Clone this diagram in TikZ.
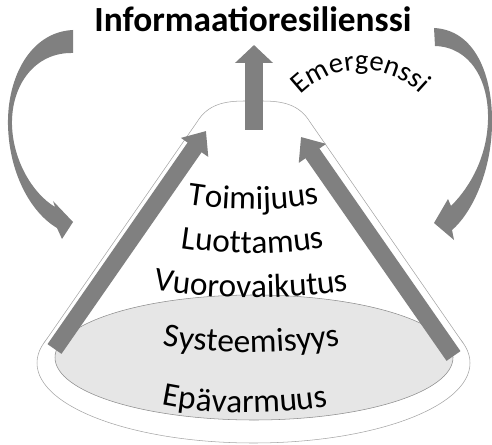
\documentclass[tikz,border=0pt]{standalone}
\usepackage{fontspec}
\setmainfont{Carlito}
\usetikzlibrary{arrows.meta,decorations.text}

\definecolor{arrowgray}{RGB}{128,128,128}
\definecolor{conegray}{RGB}{165,165,165}
\definecolor{basegray}{RGB}{230,230,230}
\newcommand\layerfont{\fontsize{25}{29}\selectfont}
\newcommand\emfont{\fontsize{21.5}{25}\selectfont}
\newcommand\titlefont{\fontsize{26.5}{31}\selectfont\bfseries}

\tikzset{
  conearrow/.style={draw=arrowgray, line width=12.75pt, -{Triangle[length=15pt,width=24pt]}},
  uparrow/.style={draw=arrowgray, line width=13.5pt, -{Triangle[length=13.5pt,width=27.75pt]}},
  layertext/.style={decorate, decoration={text along path, text align=center, text={|\layerfont|#1}}},
}

\begin{document}
\begin{tikzpicture}[x=0.75pt,y=-0.75pt]
    \useasboundingbox (0,0) rectangle (492,445);
    % base ring and cone
    \draw[conegray, fill=white] (253.5,363) ellipse (216.5 and 80);
    \fill[white] (44,343) -- (197,122) .. controls (208,104) and (225,101) .. (245,101)
        -- (262,101) .. controls (282,101) and (299,104) .. (310,122) -- (463,343) -- cycle;
    \draw[conegray] (44,343) -- (197,122) .. controls (208,104) and (225,101) .. (245,101)
        -- (262,101) .. controls (282,101) and (299,104) .. (310,122) -- (463,343);
    \draw[conegray!85!black, fill=basegray] (254,357.5) ellipse (199 and 62.5);

    % arrows along the cone
    \coordinate (lbot) at (54.5,349);
    \coordinate (ltip) at (206,131);
    \coordinate (rbot) at (453.5,356);
    \coordinate (rtip) at (301,137);
    \draw[conearrow] (lbot) -- (ltip);
    \draw[conearrow] (rbot) -- (rtip);
    \coordinate (cbot) at (254,130);
    \coordinate (ctip) at (254,45);
    \draw[uparrow] (cbot) -- (ctip);

    % curved feedback arrows
    \fill[arrowgray] (73,30) .. controls (30,32) and (7,78) .. (8,125)
        .. controls (9,172) and (30,212) .. (57,228) -- (62,239) -- (73,222) -- (53,201)
        -- (55,207) .. controls (32,193) and (13,160) .. (12,125)
        .. controls (11,85) and (35,52) .. (73,53) -- cycle;
    \fill[arrowgray] (434,28) .. controls (475,30) and (493,75) .. (492,125)
        .. controls (491,175) and (470,215) .. (452,230) -- (454,240) -- (434,223) -- (448,199)
        -- (451,206) .. controls (472,185) and (487,155) .. (488,120)
        .. controls (489,80) and (470,47) .. (435,46) -- cycle;

    % texts
    \node[font=\titlefont, anchor=base] (title) at (253,32) {Informaatioresilienssi};
    \path[decorate, decoration={text along path, text align=center, text={|\emfont|Emergenssi}}]
        (291.4,106.2) .. controls (324.9,58.4) and (395.5,57.8) .. (429.8,105);
    \path[layertext=Toimijuus] (175,202) .. controls (225,212) and (285,212) .. (332,201);
    \path[layertext=Luottamus] (165,245) .. controls (215,256) and (290,256) .. (340,244);
    \path[layertext=Vuorovaikutus] (140,287) .. controls (200,301) and (300,301) .. (362,288);
    \path[layertext=Systeemisyys] (145,342) .. controls (200,356) and (300,356) .. (358,341);
    \path[layertext=Epävarmuus] (140,399) .. controls (195,417) and (295,417) .. (350,401);
\end{tikzpicture}
\end{document}
